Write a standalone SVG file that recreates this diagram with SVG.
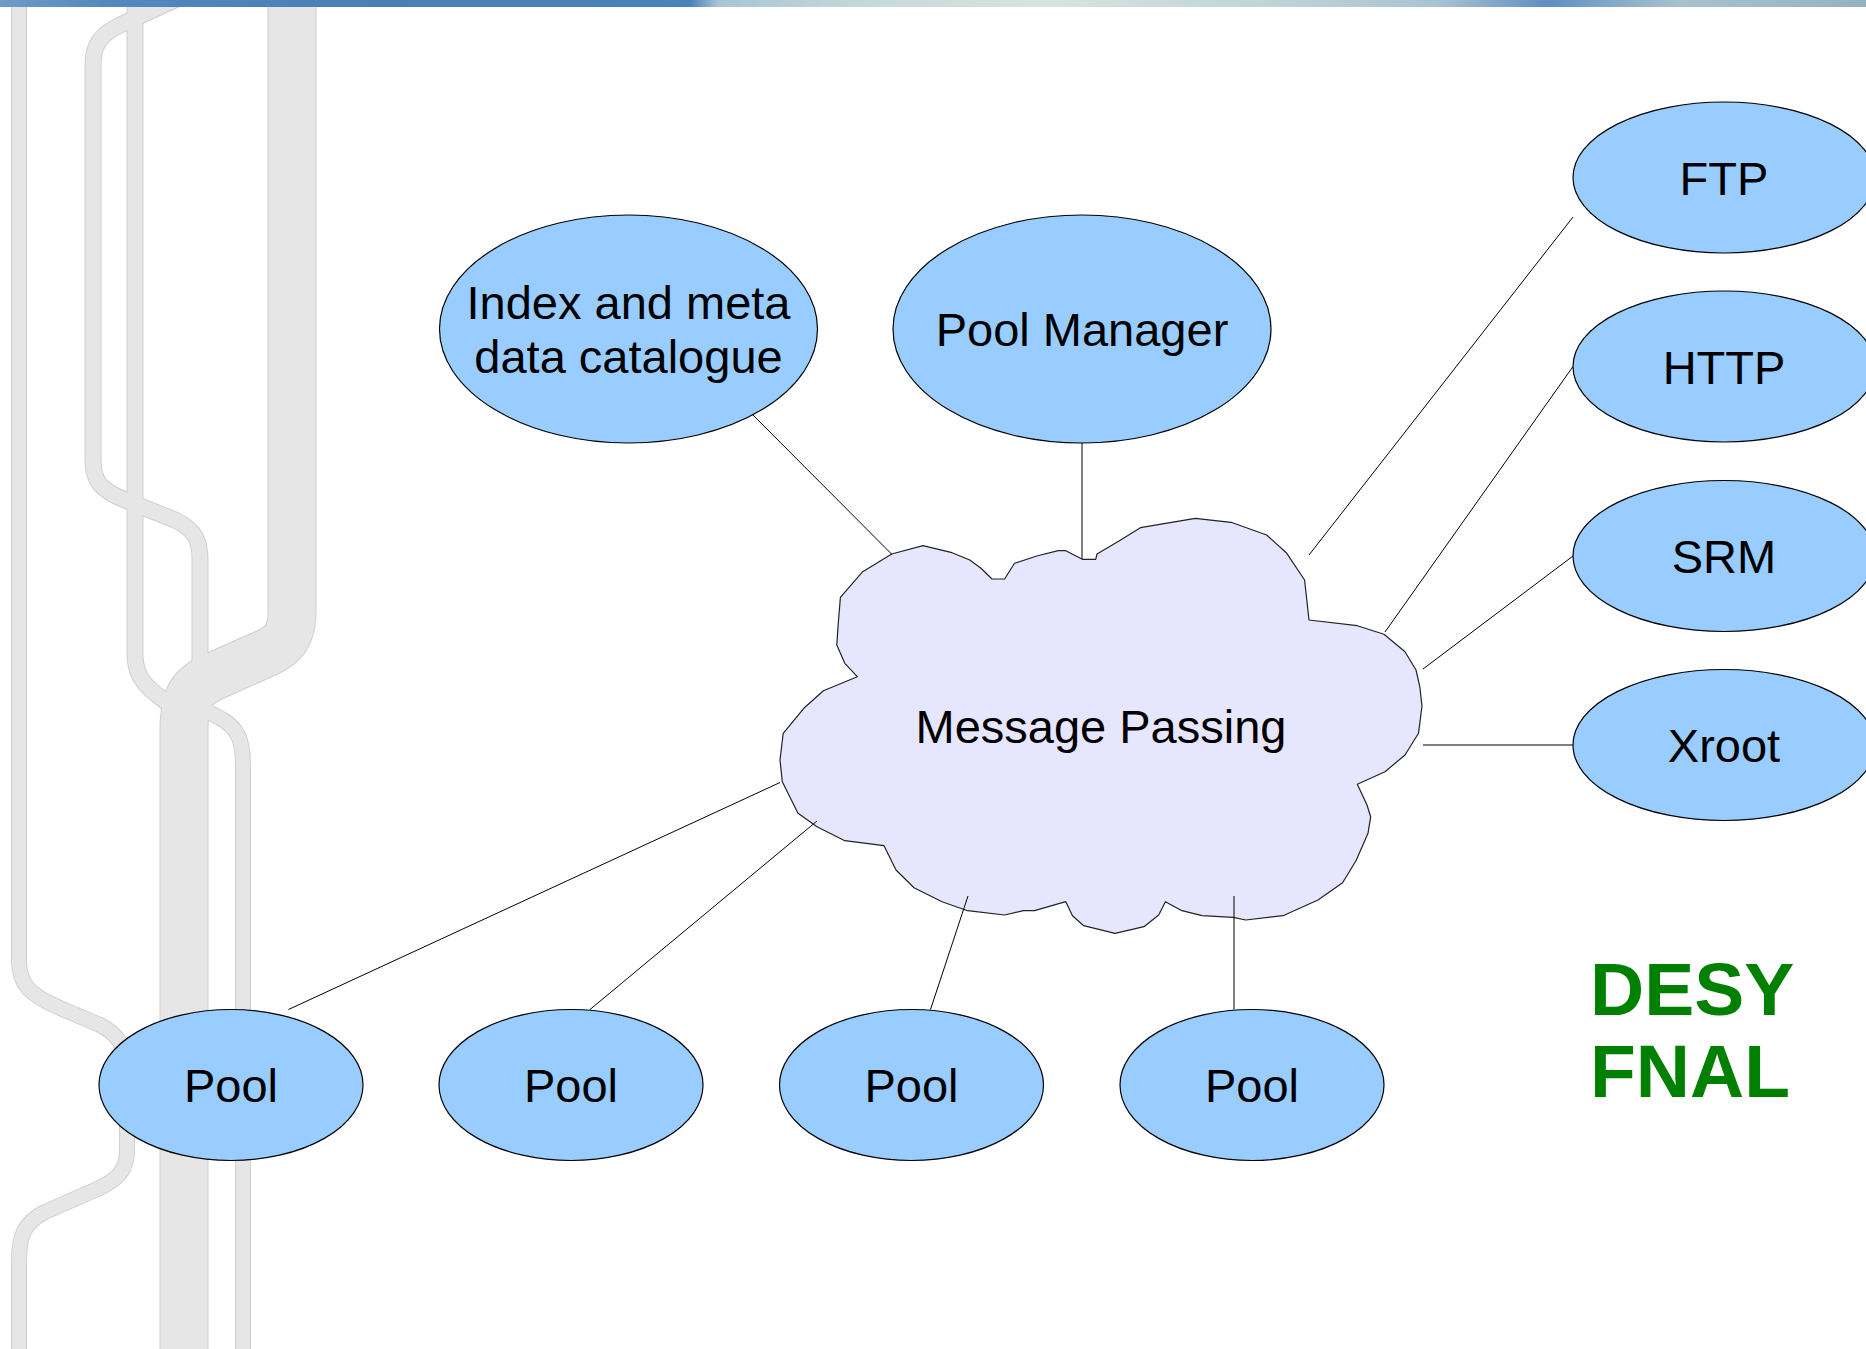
<svg xmlns="http://www.w3.org/2000/svg" width="1866" height="1349" viewBox="0 0 1866 1349">
  <defs>
    <linearGradient id="barGrad" x1="0" y1="0" x2="1866" y2="0" gradientUnits="userSpaceOnUse">
      <stop offset="0" stop-color="#6f9bc5"/>
      <stop offset="0.06" stop-color="#5288bd"/>
      <stop offset="0.2" stop-color="#4a7fb6"/>
      <stop offset="0.37" stop-color="#4b82b8"/>
      <stop offset="0.385" stop-color="#a8c5d6"/>
      <stop offset="0.47" stop-color="#c6dad9"/>
      <stop offset="0.56" stop-color="#d6e5df"/>
      <stop offset="0.66" stop-color="#c2d7d8"/>
      <stop offset="0.77" stop-color="#a9c4d2"/>
      <stop offset="0.83" stop-color="#5f8fc0"/>
      <stop offset="0.86" stop-color="#7fa6c8"/>
      <stop offset="0.9" stop-color="#a8c2cc"/>
      <stop offset="1" stop-color="#94b3c2"/>
    </linearGradient>
    <style>
      .rail-edge { fill: none; stroke: #d0d0d0; stroke-linejoin: round; }
      .rail { fill: none; stroke: #e6e6e6; stroke-linejoin: round; }
      .node { fill: #99ccff; stroke: #000; stroke-width: 1.2; }
      .cloud { fill: #e6e6ff; stroke: #222; stroke-width: 1.2; stroke-linejoin: round; }
      .link { stroke: #000; stroke-width: 1; fill: none; }
      .label { font-family: "Liberation Sans", Arial, sans-serif; font-size: 47px; fill: #000; text-anchor: middle; }
      .brand { font-family: "Liberation Sans", Arial, sans-serif; font-size: 75px; font-weight: bold; fill: #008000; }
    </style>
  </defs>

  <rect x="0" y="0" width="1866" height="1349" fill="#ffffff"/>

  <!-- decorative rails along the left edge: outlines first, then fills so crossings merge -->
  <g id="rails">
    <g class="rail-edge">
      <path stroke-width="16" d="M19,-2 V960 C19,985 30,995 60,1008 L100,1025 C120,1035 127,1050 127,1070 V1150 C127,1170 118,1180 95,1190 L45,1212 C25,1222 19,1235 19,1260 V1352"/>
      <path stroke-width="17" d="M135,-2 V655 C135,680 150,690 170,705 L182,716"/>
      <path stroke-width="17" d="M188,-6 L120,25 C100,35 93,45 93,65 V460 C93,480 100,490 125,500 L175,520 C195,530 200,540 200,560 V685"/>
      <path stroke-width="49" d="M292,-2 V612 C292,640 280,648 255,658 L210,678 C190,688 184,700 184,730 V1352"/>
      <path stroke-width="16" d="M195,705 L220,718 C238,728 243,740 243,765 V1352"/>
    </g>
    <g class="rail">
      <path stroke-width="14" d="M19,-2 V960 C19,985 30,995 60,1008 L100,1025 C120,1035 127,1050 127,1070 V1150 C127,1170 118,1180 95,1190 L45,1212 C25,1222 19,1235 19,1260 V1352"/>
      <path stroke-width="15" d="M135,-2 V655 C135,680 150,690 170,705 L182,716"/>
      <path stroke-width="15" d="M188,-6 L120,25 C100,35 93,45 93,65 V460 C93,480 100,490 125,500 L175,520 C195,530 200,540 200,560 V685"/>
      <path stroke-width="47" d="M292,-2 V612 C292,640 280,648 255,658 L210,678 C190,688 184,700 184,730 V1352"/>
      <path stroke-width="14" d="M195,705 L220,718 C238,728 243,740 243,765 V1352"/>
    </g>
  </g>

  <rect id="topbar" x="0" y="0" width="1866" height="7" fill="url(#barGrad)"/>

  <g id="message-passing">
    <path class="cloud" d="M891.7,554 L923,545.7 L952,552.7 L969.8,560 L981,568.3 L992,579 L1004.6,579 L1014.5,563.3 L1036.8,556 L1058.2,550.7 L1065.8,550.7 L1082.3,559.3 L1095.7,559.3 L1097,554 L1119.4,540.7 L1140.4,527.7 L1195.3,518.3 L1231,522.3 L1266.7,535 L1286.8,553.3 L1304.6,580 L1309,620 L1357.3,625.7 L1384,634.3 L1405,651.7 L1416,670 L1419.8,686.7 L1422,706 L1418.5,733.3 L1405,755 L1385,771.7 L1357.3,784.3 L1367,805 L1370.7,816.7 L1368,833.3 L1356,860.7 L1342.6,882.7 L1318,900 L1283,915.7 L1245.7,920 L1233.2,917.3 L1202,915.7 L1181.9,910.7 L1165.4,901.7 L1158.7,915 L1144,926.7 L1115,933.3 L1083.7,925.7 L1072.5,915.7 L1065.8,901.7 L1034.5,910.7 L1023.4,910.7 L1004.6,915 L967.6,910.7 L942,901.7 L914,887.7 L896,870 L884,845.7 L844.8,840.7 L817,826.7 L798,813.3 L782.3,781.7 L780,760 L783.2,733.3 L803.8,708.3 L823.4,690.7 L857.3,676.7 L844.8,663.3 L836.8,645 L838,626.7 L840.4,597.3 L862.7,571.7 Z"/>
    <text class="label" x="1101" y="743">Message Passing</text>
  </g>

  <!-- connectors, drawn over the cloud so the short stubs inside it stay visible -->
  <g id="connectors">
    <line class="link" x1="742.6" y1="404.6" x2="891.5" y2="554"/>
    <line class="link" x1="1082" y1="443" x2="1082" y2="559"/>
    <line class="link" x1="1573" y1="217" x2="1309" y2="555"/>
    <line class="link" x1="1573" y1="366.5" x2="1385" y2="632"/>
    <line class="link" x1="1573" y1="556" x2="1423" y2="669"/>
    <line class="link" x1="1573" y1="745" x2="1423" y2="745"/>
    <line class="link" x1="288.5" y1="1009.5" x2="780" y2="782.5"/>
    <line class="link" x1="590" y1="1009.5" x2="817" y2="821"/>
    <line class="link" x1="930.5" y1="1009.5" x2="968" y2="896"/>
    <line class="link" x1="1234" y1="1009.5" x2="1234" y2="896"/>
  </g>

  <g id="catalogue">
    <ellipse class="node" cx="628.5" cy="329" rx="189" ry="114"/>
    <text class="label" x="628.5" y="319">Index and meta</text>
    <text class="label" x="628.5" y="373">data catalogue</text>
  </g>

  <g id="pool-manager">
    <ellipse class="node" cx="1082" cy="329" rx="189" ry="114"/>
    <text class="label" x="1082" y="346">Pool Manager</text>
  </g>

  <g id="ftp">
    <ellipse class="node" cx="1724" cy="177.5" rx="151" ry="75.5"/>
    <text class="label" x="1724" y="194.5">FTP</text>
  </g>
  <g id="http">
    <ellipse class="node" cx="1724" cy="366.5" rx="151" ry="75.5"/>
    <text class="label" x="1724" y="383.5">HTTP</text>
  </g>
  <g id="srm">
    <ellipse class="node" cx="1724" cy="556" rx="151" ry="75.5"/>
    <text class="label" x="1724" y="573">SRM</text>
  </g>
  <g id="xroot">
    <ellipse class="node" cx="1724" cy="745" rx="151" ry="75.5"/>
    <text class="label" x="1724" y="762">Xroot</text>
  </g>

  <g id="pool-1">
    <ellipse class="node" cx="231" cy="1085" rx="132" ry="75.5"/>
    <text class="label" x="231" y="1102">Pool</text>
  </g>
  <g id="pool-2">
    <ellipse class="node" cx="571" cy="1085" rx="132" ry="75.5"/>
    <text class="label" x="571" y="1102">Pool</text>
  </g>
  <g id="pool-3">
    <ellipse class="node" cx="911.5" cy="1085" rx="132" ry="75.5"/>
    <text class="label" x="911.5" y="1102">Pool</text>
  </g>
  <g id="pool-4">
    <ellipse class="node" cx="1252" cy="1085" rx="132" ry="75.5"/>
    <text class="label" x="1252" y="1102">Pool</text>
  </g>

  <g id="sites">
    <text class="brand" x="1590" y="1015">DESY</text>
    <text class="brand" x="1590" y="1097">FNAL</text>
  </g>
</svg>
